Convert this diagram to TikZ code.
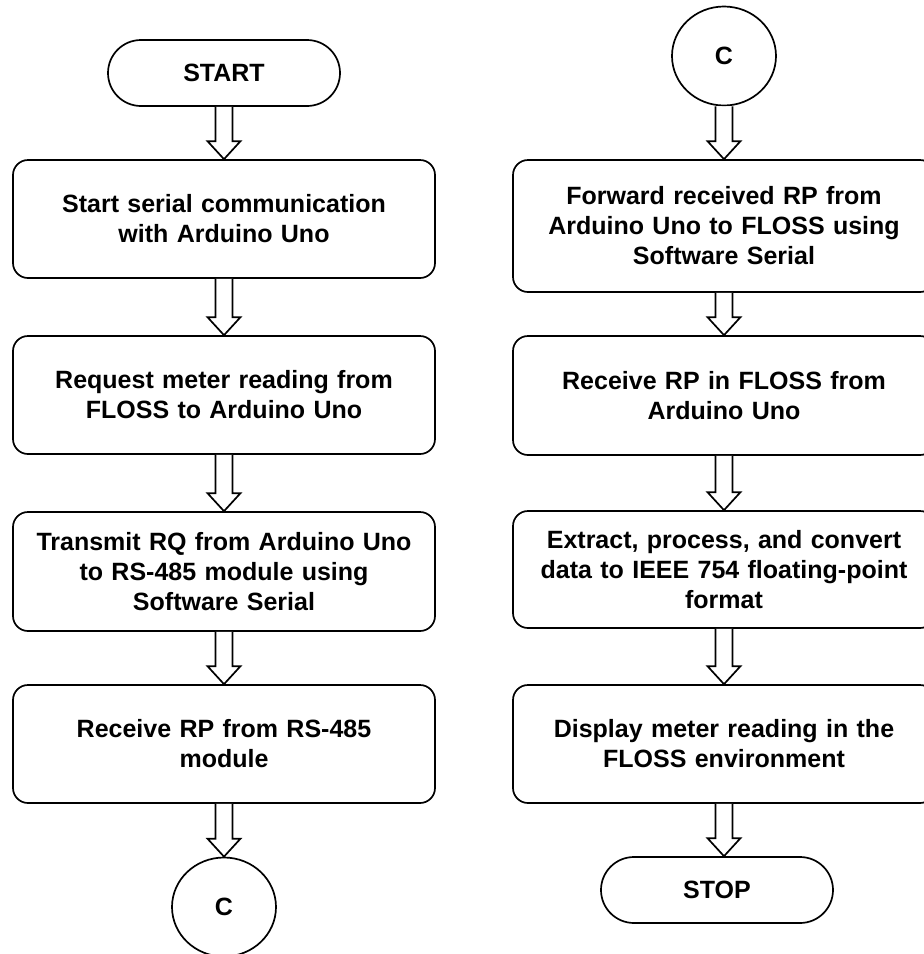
\documentclass[tikz,border=0pt]{standalone}
\usepackage{fontspec}
\setmainfont{Liberation Sans}
\usetikzlibrary{calc,shapes.geometric}
\begin{document}
\begin{tikzpicture}[x=1pt,y=-1pt,
  every node/.style={font=\fontsize{25}{30}\selectfont\bfseries, align=center, inner sep=0pt},
  procbox/.style={draw, line width=1.7pt, rounded corners=15pt, minimum width=422pt, text width=410pt},
  termbox/.style={draw, line width=1.7pt, rounded corners=33pt, minimum width=232pt, minimum height=66pt},
  conn/.style={draw, ellipse, line width=1.7pt, minimum width=104pt, minimum height=99pt},
  blockarrow/.style={draw, fill=white, line width=1.7pt, line join=miter,
    to path={let \p1=(\tikztostart), \p2=(\tikztotarget) in
      (\x1-8.5pt,\y1) -- (\x1-8.5pt,\y2+18pt) -- (\x1-16.5pt,\y2+18pt) -- (\x1,\y2)
      -- (\x1+16.5pt,\y2+18pt) -- (\x1+8.5pt,\y2+18pt) -- (\x1+8.5pt,\y1) \tikztonodes}}
]
\useasboundingbox (0,0) rectangle (924,954);
\clip (0,0) rectangle (924,954);
% left column
\node[termbox] (start) at (224,73) {START};
\node[procbox, minimum height=118pt] (l1) at (224,219) {Start serial communication\\with Arduino Uno};
\node[procbox, minimum height=118pt] (l2) at (224,395) {Request meter reading from\\FLOSS to Arduino Uno};
\node[procbox, minimum height=119pt] (l3) at (224,571.5) {Transmit RQ from Arduino Uno\\to RS-485 module using\\Software Serial};
\node[procbox, minimum height=118pt] (l4) at (224,744) {Receive RP from RS-485\\module};
\node[conn] (c1) at (224,907) {C};
% right column
\node[conn] (c2) at (724,56) {C};
\node[procbox, minimum height=132pt] (r1) at (724,226) {Forward received RP from\\Arduino Uno to FLOSS using\\Software Serial};
\node[procbox, minimum height=119pt] (r2) at (724,395.5) {Receive RP in FLOSS from\\Arduino Uno};
\node[procbox, minimum height=117pt] (r3) at (724,569.5) {Extract, process, and convert\\data to IEEE 754 floating-point\\format};
\node[procbox, minimum height=118pt] (r4) at (724,744) {Display meter reading in the\\FLOSS environment};
\node[termbox] (stop) at (717,890) {STOP};
% arrows
\path[blockarrow] (start.south) to (l1.north);
\path[blockarrow] (l1.south) to (l2.north);
\path[blockarrow] (l2.south) to (l3.north);
\path[blockarrow] (l3.south) to (l4.north);
\path[blockarrow] (l4.south) to (c1.north);
\path[blockarrow] (c2.south) to (r1.north);
\path[blockarrow] (r1.south) to (r2.north);
\path[blockarrow] (r2.south) to (r3.north);
\path[blockarrow] (r3.south) to (r4.north);
\path[blockarrow] (r4.south) to (stop.north);
\end{tikzpicture}
\end{document}
